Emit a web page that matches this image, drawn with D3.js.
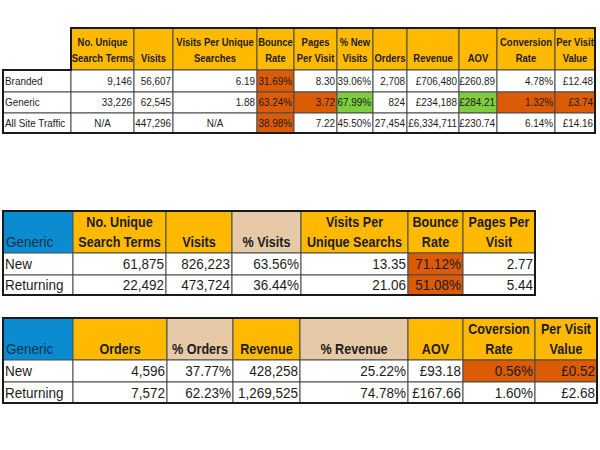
<!DOCTYPE html>
<html>
<head>
<meta charset="utf-8">
<script src="https://cdn.jsdelivr.net/npm/d3@7"></script>
<style>
  body { margin: 0; background: #fff; }
  svg text { font-family: "Liberation Sans", Arial, sans-serif; fill: #1c1c1c; }
</style>
</head>
<body>
<svg id="chart"></svg>
<script>
// ---- table 1 : search traffic overview ----
var t1Headers = ["No. Unique|Search Terms", "Visits", "Visits Per Unique|Searches", "Bounce|Rate", "Pages|Per Visit",
                 "% New|Visits", "Orders", "Revenue", "AOV", "Conversion|Rate", "Per Visit|Value"];
var t1Rows = ["Branded", "Generic", "All Site Traffic"];
var t1Branded = ["9,146", "56,607", "6.19", "31.69%", "8.30", "39.06%", "2,708", "£706,480", "£260.89", "4.78%", "£12.48"];
var t1Generic = ["33,226", "62,545", "1.88", "63.24%", "3.72", "67.99%", "824", "£234,188", "£284.21", "1.32%", "£3.74"];
var t1AllSite = ["N/A", "447,296", "N/A", "38.98%", "7.22", "45.50%", "27,454", "£6,334,711", "£230.74", "6.14%", "£14.16"];
// highlight codes per cell: r = red, g = green
var t1Marks = [
    ["", "", "", "r", "", "", "", "", "", "", ""],
    ["", "", "", "r", "r", "g", "", "", "g", "r", "r"],
    ["", "", "", "r", "", "", "", "", "", "", ""]
];

// ---- table 2 : generic new vs returning, visits ----
var t2Headers = ["No. Unique|Search Terms", "Visits", "% Visits", "Visits Per|Unique Searchs", "Bounce|Rate", "Pages Per|Visit"];
var t2HeaderTan = [false, false, true, false, false, false];
var t2Rows = ["New", "Returning"];
var t2New = ["61,875", "826,223", "63.56%", "13.35", "71.12%", "2.77"];
var t2Returning = ["22,492", "473,724", "36.44%", "21.06", "51.08%", "5.44"];
var t2Marks = [
    ["", "", "", "", "r", ""],
    ["", "", "", "", "r", ""]
];

// ---- table 3 : generic new vs returning, orders ----
var t3Headers = ["Orders", "% Orders", "Revenue", "% Revenue", "AOV", "Coversion|Rate", "Per Visit|Value"];
var t3HeaderTan = [false, true, false, true, false, false, false];
var t3Rows = ["New", "Returning"];
var t3New = ["4,596", "37.77%", "428,258", "25.22%", "£93.18", "0.56%", "£0.52"];
var t3Returning = ["7,572", "62.23%", "1,269,525", "74.78%", "£167.66", "1.60%", "£2.68"];
var t3Marks = [
    ["", "", "", "", "", "r", "r"],
    ["", "", "", "", "", "", ""]
];

var colors = {
    header: "#ffb900",
    tan: "#e6c9a6",
    r: "#dc5b06",
    g: "#80cc40",
    blue: "#0b8bd0",
    line: "#4a4a4a"
};

// horizontal squeeze to imitate a condensed spreadsheet font
var squeeze = 0.9;

var svg = d3.select("#chart").attr("width", 600).attr("height", 450);

function addText(g, x, y, str, anchor, size, bold, color) {
    return g.append("text")
        .attr("transform", "translate(" + x + "," + y + ") scale(" + squeeze + ",1)")
        .attr("text-anchor", anchor)
        .style("font-size", size + "px")
        .style("font-weight", bold ? "bold" : "normal")
        .style("fill", color || null)
        .text(str);
}

function drawTable(opts) {
    var g = svg.append("g");
    var edges = opts.edges;
    var x = d3.scaleOrdinal().domain(d3.range(edges.length)).range(edges);
    var y = d3.scaleOrdinal().domain(d3.range(opts.rowEdges.length)).range(opts.rowEdges);
    var nCols = opts.headers.length;

    // header label corner
    if (opts.corner) {
        g.append("rect").attr("x", x(0)).attr("y", y(0))
            .attr("width", x(1) - x(0)).attr("height", y(1) - y(0))
            .attr("fill", colors.blue);
        addText(g, x(0) + 3, y(1) - opts.hb, opts.corner, "start", opts.bodyFs, false, "#123048");
    }

    // header cells
    opts.headers.forEach(function (h, i) {
        var x0 = x(i + 1), x1 = x(i + 2);
        g.append("rect").attr("x", x0).attr("y", y(0))
            .attr("width", x1 - x0).attr("height", y(1) - y(0))
            .attr("fill", opts.tan && opts.tan[i] ? colors.tan : colors.header)
            .attr("stroke", colors.line).attr("stroke-width", 1);
        var lines = h.split("|");
        lines.forEach(function (l, k) {
            addText(g, (x0 + x1) / 2, y(1) - opts.hb - (lines.length - 1 - k) * opts.lh,
                l, "middle", opts.fs, true);
        });
    });

    // body rows
    opts.rows.forEach(function (rowName, r) {
        var y0 = y(r + 1), y1 = y(r + 2);
        var cy = (y0 + y1) / 2 + opts.bodyFs * 0.36;
        g.append("rect").attr("x", x(0)).attr("y", y0)
            .attr("width", x(1) - x(0)).attr("height", y1 - y0)
            .attr("fill", "#fff").attr("stroke", colors.line);
        addText(g, x(0) + 2, cy, rowName, "start", opts.bodyFs, false);
        opts.values[r].forEach(function (v, i) {
            var x0 = x(i + 1), x1 = x(i + 2);
            var m = opts.marks[r][i];
            g.append("rect").attr("x", x0).attr("y", y0)
                .attr("width", x1 - x0).attr("height", y1 - y0)
                .attr("fill", m ? colors[m] : "#fff")
                .attr("stroke", colors.line);
            var center = v === "N/A";
            addText(g, center ? (x0 + x1) / 2 : x1 - 2, cy, v, center ? "middle" : "end", opts.bodyFs, false);
        });
    });

    // heavy outer frame
    g.append("path")
        .attr("d", opts.corner
            ? "M" + x(0) + "," + y(0) + "H" + x(nCols + 1) + "V" + y(opts.rows.length + 1) + "H" + x(0) + "Z"
            : "M" + x(1) + "," + y(0) + "H" + x(nCols + 1) + "V" + y(opts.rows.length + 1) + "H" + x(0) + "V" + y(1) + "H" + x(1) + "Z")
        .attr("fill", "none").attr("stroke", "#1a1a1a").attr("stroke-width", 2);
}

drawTable({
    headers: t1Headers,
    rows: t1Rows,
    values: [t1Branded, t1Generic, t1AllSite],
    marks: t1Marks,
    edges: [3, 71, 134, 173, 257, 294, 337, 373, 407, 459, 497, 555, 595],
    rowEdges: [28, 70, 92, 113, 133],
    fs: 10.5,
    bodyFs: 11,
    lh: 16,
    hb: 8
});

drawTable({
    headers: t2Headers,
    tan: t2HeaderTan,
    corner: "Generic",
    rows: t2Rows,
    values: [t2New, t2Returning],
    marks: t2Marks,
    edges: [3, 73, 166, 232, 301, 408, 463, 535],
    rowEdges: [211, 253, 275, 295],
    fs: 14,
    bodyFs: 15,
    lh: 20,
    hb: 6
});

drawTable({
    headers: t3Headers,
    tan: t3HeaderTan,
    corner: "Generic",
    rows: t3Rows,
    values: [t3New, t3Returning],
    marks: t3Marks,
    edges: [3, 73, 167, 233, 300, 408, 463, 535, 597],
    rowEdges: [318, 360, 382, 403],
    fs: 14,
    bodyFs: 15,
    lh: 20,
    hb: 6
});
</script>
</body>
</html>
